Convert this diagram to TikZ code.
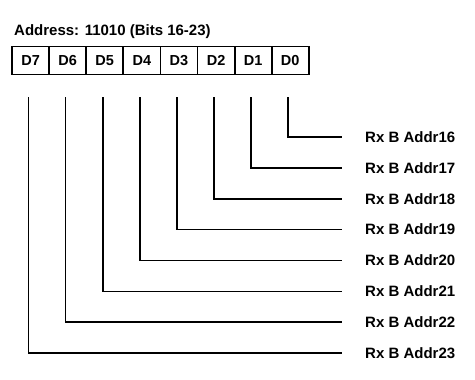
\documentclass[tikz,border=0pt]{standalone}
\usepackage{fontspec}
\setmainfont{Liberation Sans}
\begin{document}
\begin{tikzpicture}[x=1pt,y=-1pt,
  cellbox/.style={draw,line width=1.8pt,minimum width=37.1pt,minimum height=28pt,inner sep=0pt,text height=10pt,text depth=0pt,font=\fontsize{14.5}{14.5}\selectfont\bfseries},
  sigtext/.style={anchor=west,inner sep=0pt,font=\fontsize{15}{15}\selectfont\bfseries},
  wire/.style={line width=1.6pt}]
\useasboundingbox (0,0) rectangle (475,380);
\node[anchor=west,inner sep=0pt,font=\fontsize{15}{15}\selectfont\bfseries] (title) at (14,32) {Address: 11010 (Bits 16-23)};
\foreach \i in {0,...,7}{
  \pgfmathsetmacro{\cx}{12+37.1*(7-\i)+18.55}
  \pgfmathsetmacro{\ry}{137+30.86*\i}
  \pgfmathtruncatemacro{\an}{16+\i}
  \node[cellbox] (c\i) at (\cx,60.5) {D\i};
  \coordinate (t\i) at ({\cx-2},97);
  \node[sigtext] (l\i) at (365,\ry) {Rx B Addr\an};
  \draw[wire] (t\i) |- ([xshift=-23pt]l\i.west);
}
\end{tikzpicture}
\end{document}
